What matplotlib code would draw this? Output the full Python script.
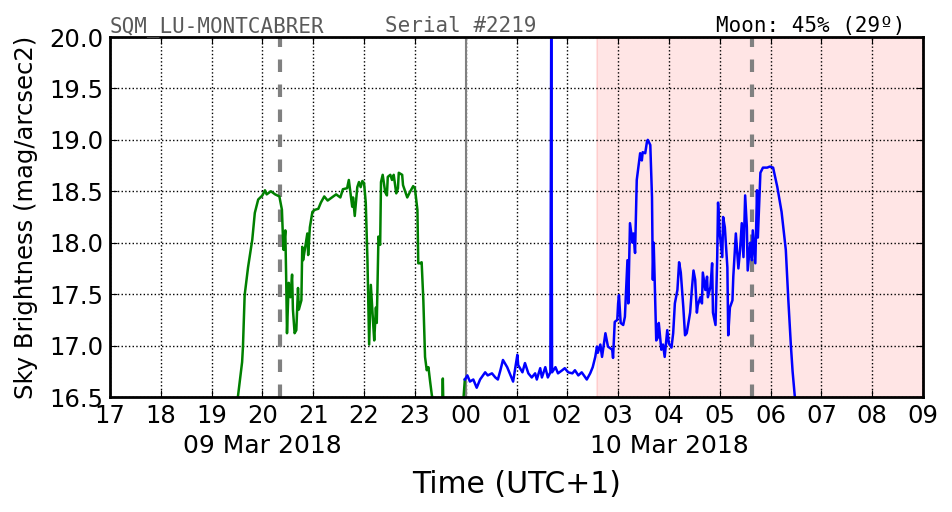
import datetime as dt
import matplotlib
matplotlib.use("Agg")
import matplotlib.pyplot as plt
import matplotlib.dates as mdates
import matplotlib.transforms as mtransforms

# data: minutes after 17:00 on 09 Mar 2018, sky brightness
start = dt.datetime(2018, 3, 9, 17, 0)

green_min = [151, 156, 157, 159, 163, 168, 171, 175, 180, 183, 185, 190, 195, 200, 203, 204, 205, 207,
             208, 209, 211, 213, 215, 216, 218, 220, 222, 223, 226, 227, 228, 230, 233, 234, 236, 239,
             242, 246, 249, 253, 257, 262, 267, 272, 275, 280, 282, 286, 287, 289, 292, 294, 296, 298,
             300, 302, 304, 306, 308, 311, 312, 314, 315, 317, 319, 320, 322, 325, 327, 328, 331, 333,
             335, 338, 340, 341, 345, 346, 351, 354, 358, 360, 363, 364, 366, 368, 370, 372, 374, 376,
             378, 380, 384, 390, 392, 393, 394, 407, 416, 419]
green_mag = [16.50, 16.84, 16.99, 17.49, 17.76, 18.03, 18.29, 18.42, 18.46, 18.51, 18.47, 18.50, 18.47,
             18.45, 18.32, 18.10, 17.93, 18.12, 17.67, 17.12, 17.61, 17.47, 17.69, 17.35, 17.12, 17.15,
             17.56, 17.35, 17.44, 17.96, 17.83, 17.93, 18.09, 17.88, 18.15, 18.30, 18.32, 18.33, 18.39,
             18.45, 18.41, 18.44, 18.47, 18.44, 18.52, 18.53, 18.61, 18.35, 18.44, 18.26, 18.54, 18.59,
             18.54, 18.60, 18.58, 18.39, 17.83, 17.01, 17.59, 17.18, 17.05, 17.37, 17.22, 18.06, 17.98,
             18.59, 18.66, 18.49, 18.46, 18.64, 18.66, 18.61, 18.66, 18.48, 18.53, 18.68, 18.66, 18.56,
             18.44, 18.49, 18.55, 18.53, 18.32, 17.80, 17.80, 17.81, 17.44, 16.89, 16.76, 16.79, 16.65,
             16.52, 16.37, 16.28, 16.28, 16.68, 16.28, 16.18, 16.33, 16.67]

blue_min = [419, 422, 425, 429, 433, 437, 443, 446, 451, 455, 458, 461, 464, 469, 472, 476, 481, 482,
            487, 490, 494, 498, 502, 504, 508, 510, 514, 517, 520, 521, 522, 526, 529, 534, 537, 541,
            546, 549, 553, 557, 563, 567, 570, 573, 575, 576, 579, 581, 585, 588, 593, 594, 596, 599,
            600, 601, 603, 606, 608, 611, 612, 614, 617, 618, 620, 622, 624, 626, 628, 629, 632, 634,
            635, 638, 640, 641, 642, 645, 647, 648, 651, 653, 655, 658, 660, 663, 665, 667, 670, 672,
            674, 677, 679, 681, 685, 687, 689, 691, 693, 694, 697, 699, 700, 703, 705, 706, 709, 711,
            712, 715, 717, 718, 720, 723, 724, 726, 729, 730, 732, 735, 736, 739, 742, 744, 746, 748,
            750, 752, 753, 756, 758, 759, 762, 764, 765, 768, 771, 776, 779, 783, 788, 793, 798, 801,
            804, 806, 809]
blue_mag = [16.67, 16.71, 16.65, 16.67, 16.59, 16.67, 16.74, 16.71, 16.73, 16.69, 16.67, 16.76, 16.86,
            16.79, 16.73, 16.65, 16.91, 16.81, 16.74, 16.83, 16.73, 16.69, 16.73, 16.67, 16.78, 16.69,
            16.79, 16.69, 16.74, 20.10, 16.74, 16.79, 16.73, 16.76, 16.78, 16.74, 16.73, 16.76, 16.71,
            16.74, 16.67, 16.73, 16.79, 16.89, 16.99, 16.93, 17.01, 16.89, 17.12, 16.99, 16.96, 16.88,
            17.23, 17.25, 17.41, 17.49, 17.22, 17.20, 17.28, 17.83, 17.41, 18.19, 18.00, 18.09, 17.90,
            18.61, 18.74, 18.87, 18.80, 18.88, 18.87, 18.98, 19.00, 18.95, 18.44, 17.64, 18.00, 17.05,
            17.08, 17.22, 16.96, 17.01, 16.89, 17.15, 17.02, 16.98, 17.12, 17.41, 17.54, 17.81, 17.71,
            17.37, 17.10, 17.12, 17.32, 17.54, 17.73, 17.64, 17.32, 17.39, 17.47, 17.41, 17.71, 17.54,
            17.67, 17.47, 17.57, 17.80, 17.32, 17.20, 17.86, 18.39, 18.09, 17.86, 18.25, 18.15, 17.76,
            17.10, 17.37, 17.44, 17.67, 18.09, 17.75, 17.93, 18.19, 17.86, 18.46, 18.15, 17.73, 18.00,
            17.83, 18.12, 17.80, 18.51, 18.05, 18.68, 18.73, 18.73, 18.74, 18.73, 18.54, 18.30, 17.93,
            17.44, 17.00, 16.75, 16.47]

moon_marks_min = [201, 758]   # dashed gray lines
midnight_min = 420
night_shade_min = [575, 960]  # pink band

def to_time(mins):
    return [start + dt.timedelta(minutes=m) for m in mins]

plt.rcParams['font.family'] = 'DejaVu Sans'

fig = plt.figure(figsize=(9.52, 5.12), dpi=100)
ax = fig.add_axes([110 / 952, 1 - 397 / 512, 813 / 952, 360 / 512])

ax.axvspan(*to_time(night_shade_min), facecolor='red', edgecolor='red', alpha=0.1, lw=1.5)
ax.axvline(to_time([midnight_min])[0], color='gray', lw=1.5)
for t in to_time(moon_marks_min):
    ax.axvline(t, color='gray', lw=3, linestyle=(0, (3, 3)))

ax.plot(to_time(green_min), green_mag, color='green', lw=1.8)
ax.plot(to_time(blue_min), blue_mag, color='blue', lw=1.8)

ax.set_xlim(to_time([0, 960]))
ax.set_ylim(16.5, 20.0)
ax.set_yticks([16.5 + 0.5 * i for i in range(8)])
ax.xaxis.set_major_locator(mdates.HourLocator())
ax.xaxis.set_major_formatter(mdates.DateFormatter('%H'))
ax.grid(True, color='black', linestyle=':', lw=1)
ax.tick_params(direction='in', top=True, right=True, labelsize=17.5, length=5, pad=5)
for s in ax.spines.values():
    s.set_linewidth(2)

ax.set_ylabel('Sky Brightness (mag/arcsec2)', fontsize=17.5, labelpad=8)
ax.set_xlabel('Time (UTC+1)', fontsize=21.5, labelpad=30)

trans = mtransforms.blended_transform_factory(ax.transData, fig.transFigure)
for mins, label in [(180, '09 Mar 2018'), (660, '10 Mar 2018')]:
    ax.text(to_time([mins])[0], 1 - 446 / 512, label, transform=trans,
            ha='center', va='center', fontsize=18)

title_y = 1 - 32 / 512
fig.text(110 / 952, title_y, 'SQM_LU-MONTCABRER', family='DejaVu Sans Mono',
         fontsize=15, color='#5a5a5a', va='baseline', zorder=10)
fig.text(385 / 952, title_y, 'Serial #2219', family='DejaVu Sans Mono',
         fontsize=15, color='#5a5a5a', va='baseline', zorder=10)
fig.text(905 / 952, title_y, 'Moon: 45% (29º)', family='DejaVu Sans Mono',
         fontsize=15, color='black', va='baseline', ha='right', zorder=10)

fig.savefig('out.png', dpi=100)
